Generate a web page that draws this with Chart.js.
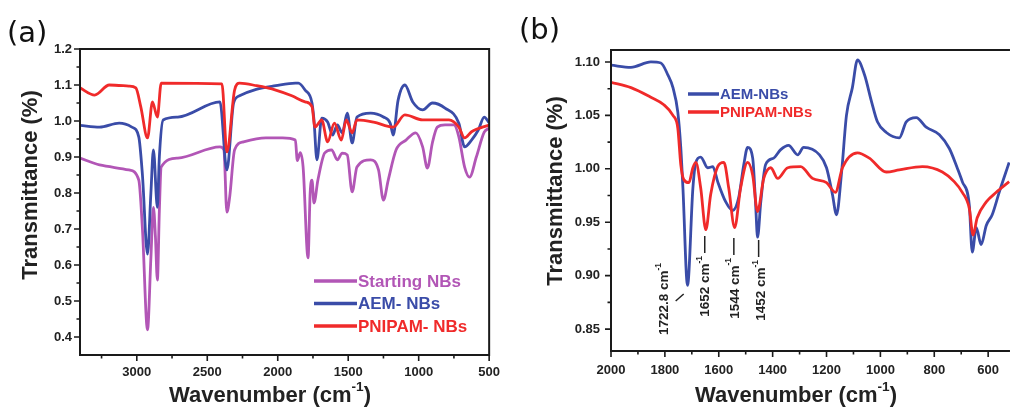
<!DOCTYPE html>
<html>
<head>
<meta charset="utf-8">
<script src="https://cdn.jsdelivr.net/npm/chart.js@4.4.1/dist/chart.umd.min.js"></script>
<style>
  html, body { margin: 0; padding: 0; background: #fff; }
  #wrap { position: relative; width: 1011px; height: 410px; overflow: hidden; }
  .panel { position: absolute; top: 0; height: 410px; }
  #panelA { left: 0; width: 510px; }
  #panelB { left: 510px; width: 501px; }
</style>
</head>
<body>
<div id="wrap">
  <div class="panel" id="panelA"><canvas id="chartA"></canvas></div>
  <div class="panel" id="panelB"><canvas id="chartB"></canvas></div>
</div>
<script>
// ---- panel (a) data: wavenumber (cm-1) and transmittance ----
const aStartWn = [3403, 3264, 3056, 2986, 2960, 2924, 2900, 2882, 2868, 2854, 2840, 2827, 2709, 2410, 2382, 2361, 2341, 2306, 2243, 2084, 1966, 1875, 1861, 1840, 1820, 1785, 1770, 1757, 1743, 1715, 1667, 1618, 1577, 1542, 1507, 1472, 1438, 1341, 1285, 1250, 1216, 1160, 1090, 1021, 972, 938, 903, 868, 813, 750, 715, 674, 639, 591, 535, 500];
const aStartT = [0.897, 0.878, 0.864, 0.836, 0.70, 0.42, 0.62, 0.76, 0.68, 0.558, 0.75, 0.872, 0.897, 0.928, 0.92, 0.747, 0.789, 0.92, 0.942, 0.953, 0.953, 0.947, 0.89, 0.912, 0.872, 0.62, 0.80, 0.836, 0.772, 0.836, 0.911, 0.92, 0.892, 0.911, 0.906, 0.803, 0.872, 0.892, 0.864, 0.78, 0.836, 0.92, 0.947, 0.967, 0.928, 0.869, 0.939, 0.983, 0.989, 0.989, 0.956, 0.872, 0.844, 0.9, 0.969, 0.98];

const aAemWn = [3403, 3264, 3125, 3035, 2986, 2960, 2924, 2900, 2882, 2854, 2840, 2813, 2709, 2410, 2361, 2313, 2271, 2153, 2014, 1875, 1854, 1806, 1757, 1743, 1722, 1688, 1646, 1611, 1577, 1542, 1507, 1472, 1438, 1341, 1250, 1202, 1181, 1146, 1098, 1042, 972, 903, 813, 715, 674, 625, 577, 535, 500];
const aAemT = [0.988, 0.983, 0.994, 0.983, 0.956, 0.85, 0.63, 0.80, 0.92, 0.76, 0.90, 1.003, 1.011, 1.053, 0.864, 1.05, 1.07, 1.088, 1.098, 1.105, 1.105, 1.086, 1.05, 1.003, 0.892, 1.008, 0.997, 0.961, 0.989, 0.967, 1.022, 0.939, 1.011, 1.022, 1.011, 0.994, 0.961, 1.058, 1.10, 1.053, 1.031, 1.05, 1.036, 0.994, 0.928, 0.947, 0.975, 1.011, 0.995];

const aPnipamWn = [3403, 3299, 3195, 3056, 3007, 2972, 2924, 2889, 2854, 2827, 2396, 2361, 2306, 2271, 2150, 2014, 1900, 1806, 1757, 1736, 1688, 1646, 1598, 1549, 1514, 1472, 1438, 1320, 1181, 1098, 972, 785, 715, 674, 625, 500];
const aPnipamT = [1.092, 1.072, 1.10, 1.097, 1.092, 1.04, 0.953, 1.053, 1.011, 1.105, 1.103, 0.914, 1.086, 1.105, 1.098, 1.086, 1.07, 1.053, 1.04, 0.983, 1.003, 0.942, 0.994, 0.947, 1.003, 0.967, 1.003, 0.997, 0.983, 1.017, 1.003, 1.003, 0.983, 0.953, 0.97, 0.989];

// ---- panel (b) data ----
const bAemWn = [2000, 1926, 1852, 1815, 1789, 1770, 1752, 1741, 1733, 1716, 1696, 1685, 1667, 1641, 1622, 1604, 1574, 1548, 1526, 1507, 1493, 1474, 1463, 1456, 1444, 1426, 1396, 1370, 1341, 1307, 1285, 1226, 1200, 1178, 1163, 1144, 1126, 1104, 1085, 1059, 1033, 1011, 978, 930, 904, 867, 830, 781, 744, 715, 696, 670, 659, 644, 626, 607, 585, 559, 522];
const bAemT = [1.097, 1.095, 1.100, 1.099, 1.088, 1.076, 1.053, 1.020, 0.982, 0.891, 0.982, 1.006, 1.011, 1.001, 1.002, 0.988, 0.969, 0.961, 0.973, 1.004, 1.020, 1.010, 0.966, 0.936, 0.969, 1.004, 1.010, 1.018, 1.022, 1.013, 1.020, 1.013, 1.001, 0.976, 0.957, 0.997, 1.050, 1.076, 1.102, 1.088, 1.063, 1.044, 1.034, 1.029, 1.044, 1.048, 1.039, 1.032, 1.019, 1.001, 0.988, 0.966, 0.922, 0.945, 0.929, 0.947, 0.957, 0.978, 1.006];

const bPnipamWn = [2000, 1926, 1852, 1804, 1770, 1752, 1741, 1730, 1711, 1696, 1685, 1667, 1648, 1630, 1604, 1581, 1563, 1541, 1519, 1493, 1474, 1456, 1433, 1407, 1381, 1344, 1296, 1252, 1200, 1167, 1141, 1085, 1041, 978, 930, 844, 770, 726, 696, 670, 656, 641, 607, 570, 522];
const bPnipamT = [1.081, 1.076, 1.067, 1.060, 1.050, 1.038, 1.004, 0.990, 0.987, 1.001, 1.006, 0.982, 0.943, 0.976, 1.002, 1.006, 0.982, 0.945, 0.982, 1.006, 0.994, 0.960, 0.991, 1.001, 0.991, 1.001, 1.002, 0.991, 0.987, 0.978, 1.001, 1.015, 1.010, 0.997, 0.999, 1.002, 0.997, 0.988, 0.978, 0.963, 0.938, 0.954, 0.969, 0.978, 0.988];

// ---- axes, labels ----
const aXTicks = [3000, 2500, 2000, 1500, 1000, 500];
const aYTicks = [0.4, 0.5, 0.6, 0.7, 0.8, 0.9, 1.0, 1.1, 1.2];
const bXTicks = [2000, 1800, 1600, 1400, 1200, 1000, 800, 600];
const bYTicks = [0.85, 0.90, 0.95, 1.00, 1.05, 1.10];
const namesA = ["Starting NBs", "AEM- NBs", "PNIPAM- NBs"];
const namesB = ["AEM-NBs", "PNIPAM-NBs"];
const peakWn = [1722.8, 1652, 1544, 1452];
const peakText = ["1722.8 cm", "1652 cm", "1544 cm", "1452 cm"];

const PURPLE = "#b256b6";
const BLUE = "#3a4ca8";
const RED = "#f02a2a";
const FAMILY = '"Liberation Sans", Arial, sans-serif';

const toPoints = (xs, ys) => xs.map((x, i) => ({ x: x, y: ys[i] }));

function minorsOf(majors, min, max) {
  const s = [...majors].sort((p, q) => p - q);
  const step = s[1] - s[0];
  const out = [];
  for (let i = 0; i < s.length - 1; i++) out.push((s[i] + s[i + 1]) / 2);
  if (s[0] - step / 2 > min + 1e-9) out.push(s[0] - step / 2);
  if (s[s.length - 1] + step / 2 < max - 1e-9) out.push(s[s.length - 1] + step / 2);
  return out;
}

// draws text with superscript parts, left aligned from x (or centered)
function drawRich(ctx, parts, x, y, size, weight, center) {
  const widths = parts.map(([t, sup]) => {
    ctx.font = `${weight} ${sup ? size * 0.62 : size}px ${FAMILY}`;
    return ctx.measureText(t).width;
  });
  const total = widths.reduce((p, q) => p + q, 0);
  let cx = center === "center" ? x - total / 2 : center === "right" ? x - total : x;
  ctx.textAlign = "left";
  ctx.textBaseline = "middle";
  parts.forEach(([t, sup], i) => {
    ctx.font = `${weight} ${sup ? size * 0.62 : size}px ${FAMILY}`;
    ctx.fillText(t, cx, sup ? y - size * 0.42 : y);
    cx += widths[i];
  });
}

const decor = {
  id: "decor",
  afterDraw(chart, args, opts) {
    const { ctx, chartArea: a } = chart;
    const xs = chart.scales.x, ys = chart.scales.y;
    ctx.save();

    // frame
    ctx.strokeStyle = "#1a1a1a";
    ctx.lineWidth = 2;
    ctx.beginPath();
    if (opts.openRight) {
      ctx.moveTo(a.right, a.top); ctx.lineTo(a.left, a.top);
      ctx.lineTo(a.left, a.bottom); ctx.lineTo(a.right, a.bottom);
    } else {
      ctx.rect(a.left, a.top, a.right - a.left, a.bottom - a.top);
    }
    ctx.stroke();

    // outward ticks
    ctx.lineWidth = 1.6;
    const xMaj = opts.xTicks, yMaj = opts.yTicks;
    const xMin = minorsOf(xMaj, xs.min, xs.max), yMin = minorsOf(yMaj, ys.min, ys.max);
    ctx.beginPath();
    xMaj.forEach(v => { const p = xs.getPixelForValue(v); ctx.moveTo(p, a.bottom); ctx.lineTo(p, a.bottom + 6); });
    xMin.forEach(v => { const p = xs.getPixelForValue(v); ctx.moveTo(p, a.bottom); ctx.lineTo(p, a.bottom + 3.5); });
    yMaj.forEach(v => { const p = ys.getPixelForValue(v); ctx.moveTo(a.left - 6, p); ctx.lineTo(a.left, p); });
    yMin.forEach(v => { const p = ys.getPixelForValue(v); ctx.moveTo(a.left - 3.5, p); ctx.lineTo(a.left, p); });
    ctx.stroke();

    // axis titles
    ctx.fillStyle = "#222";
    drawRich(ctx, [["Wavenumber (cm", false], ["-1", true], [")", false]], opts.xTitle[0], opts.xTitle[1], 22, "bold", "center");
    ctx.save();
    ctx.translate(opts.yTitle[0], opts.yTitle[1]);
    ctx.rotate(-Math.PI / 2);
    drawRich(ctx, [["Transmittance (%)", false]], 0, 0, 22, "bold", "center");
    ctx.restore();

    // panel letter
    ctx.fillStyle = "#111";
    ctx.font = `29px "DejaVu Sans", sans-serif`;
    ctx.textAlign = "left";
    ctx.textBaseline = "middle";
    ctx.fillText(opts.letter[0], opts.letter[1], opts.letter[2]);

    // legend
    const lg = opts.legend;
    lg.items.forEach((it, i) => {
      const yy = lg.y + i * lg.gap;
      ctx.strokeStyle = it.color;
      ctx.lineWidth = 3.5;
      ctx.beginPath(); ctx.moveTo(lg.x0, yy); ctx.lineTo(lg.x1, yy); ctx.stroke();
      ctx.fillStyle = it.color;
      ctx.font = `bold ${lg.size}px ${FAMILY}`;
      ctx.textAlign = "left";
      ctx.textBaseline = "middle";
      ctx.fillText(it.text, lg.x1 + 1, yy + 1);
    });

    // peak annotations
    if (opts.peaks) {
      ctx.strokeStyle = "#222";
      ctx.fillStyle = "#222";
      ctx.lineWidth = 1.5;
      opts.peaks.forEach((pk, i) => {
        const px = xs.getPixelForValue(peakWn[i]);
        ctx.beginPath();
        if (pk.diag) {
          ctx.moveTo(px - 10, pk.top + 38); ctx.lineTo(px - 2, pk.top + 31);
        } else {
          ctx.moveTo(px, pk.top - 20); ctx.lineTo(px, pk.top - 3);
        }
        ctx.stroke();
        ctx.save();
        ctx.translate(px + pk.dx, pk.top);
        ctx.rotate(-Math.PI / 2);
        drawRich(ctx, [[peakText[i], false], ["-1", true]], 0, 0, 13.5, "bold", "right");
        ctx.restore();
      });
    }
    ctx.restore();
  }
};

function tickFont() { return { family: FAMILY, size: 13, weight: "bold" }; }

function lineSet(label, pts, color, order) {
  return {
    label: label, data: pts, borderColor: color, backgroundColor: color,
    borderWidth: 2.8, pointRadius: 0, cubicInterpolationMode: "monotone", order: order
  };
}

// ---- chart (a) ----
new Chart(document.getElementById("chartA"), {
  type: "line",
  data: {
    datasets: [
      lineSet(namesA[0], toPoints(aStartWn, aStartT), PURPLE, 3),
      lineSet(namesA[1], toPoints(aAemWn, aAemT), BLUE, 2),
      lineSet(namesA[2], toPoints(aPnipamWn, aPnipamT), RED, 1)
    ]
  },
  options: {
    responsive: true, maintainAspectRatio: false, animation: false,
    layout: { padding: { top: 49, right: 13, left: 0, bottom: 0 } },
    plugins: {
      legend: { display: false }, tooltip: { enabled: false },
      decor: {
        xTicks: aXTicks, yTicks: aYTicks,
        xTitle: [270, 396], yTitle: [31, 185],
        letter: ["(a)", 7, 34],
        legend: {
          x0: 314, x1: 357, y: 281, gap: 22.5, size: 17,
          items: [{ text: namesA[0], color: PURPLE }, { text: namesA[1], color: BLUE }, { text: namesA[2], color: RED }]
        }
      }
    },
    scales: {
      x: {
        type: "linear", reverse: true, min: 500, max: 3403,
        afterBuildTicks: s => { s.ticks = aXTicks.map(v => ({ value: v })); },
        afterFit: s => { s.height = 55; },
        grid: { display: false, drawTicks: false }, border: { display: false },
        ticks: { font: tickFont(), color: "#222", padding: 10, maxRotation: 0, autoSkip: false, callback: v => String(v) }
      },
      y: {
        type: "linear", min: 0.35, max: 1.2,
        afterBuildTicks: s => { s.ticks = aYTicks.map(v => ({ value: v })); },
        afterFit: s => { s.width = 80; },
        grid: { display: false, drawTicks: false }, border: { display: false },
        ticks: { font: tickFont(), color: "#222", padding: 8, callback: v => v.toFixed(1) }
      }
    }
  },
  plugins: [decor]
});

// ---- chart (b) ----
new Chart(document.getElementById("chartB"), {
  type: "line",
  data: {
    datasets: [
      lineSet(namesB[0], toPoints(bAemWn, bAemT), BLUE, 2),
      lineSet(namesB[1], toPoints(bPnipamWn, bPnipamT), RED, 1)
    ]
  },
  options: {
    responsive: true, maintainAspectRatio: false, animation: false,
    layout: { padding: { top: 50, right: 0, left: 0, bottom: 0 } },
    plugins: {
      legend: { display: false }, tooltip: { enabled: false },
      decor: {
        openRight: true,
        xTicks: bXTicks, yTicks: bYTicks,
        xTitle: [286, 396], yTitle: [46, 191],
        letter: ["(b)", 9, 31],
        legend: {
          x0: 178, x1: 209, y: 94, gap: 18, size: 15,
          items: [{ text: namesB[0], color: BLUE }, { text: namesB[1], color: RED }]
        },
        peaks: [
          { dx: -21, top: 263, diag: true },
          { dx: 1, top: 256 },
          { dx: 1, top: 258 },
          { dx: 3, top: 260 }
        ]
      }
    },
    scales: {
      x: {
        type: "linear", reverse: true, min: 519, max: 2000,
        afterBuildTicks: s => { s.ticks = bXTicks.map(v => ({ value: v })); },
        afterFit: s => { s.height = 59; },
        grid: { display: false, drawTicks: false }, border: { display: false },
        ticks: { font: tickFont(), color: "#222", padding: 12, maxRotation: 0, autoSkip: false, callback: v => String(v) }
      },
      y: {
        type: "linear", min: 0.8295, max: 1.1112,
        afterBuildTicks: s => { s.ticks = bYTicks.map(v => ({ value: v })); },
        afterFit: s => { s.width = 101; },
        grid: { display: false, drawTicks: false }, border: { display: false },
        ticks: { font: tickFont(), color: "#222", padding: 11, callback: v => v.toFixed(2) }
      }
    }
  },
  plugins: [decor]
});
</script>
</body>
</html>
